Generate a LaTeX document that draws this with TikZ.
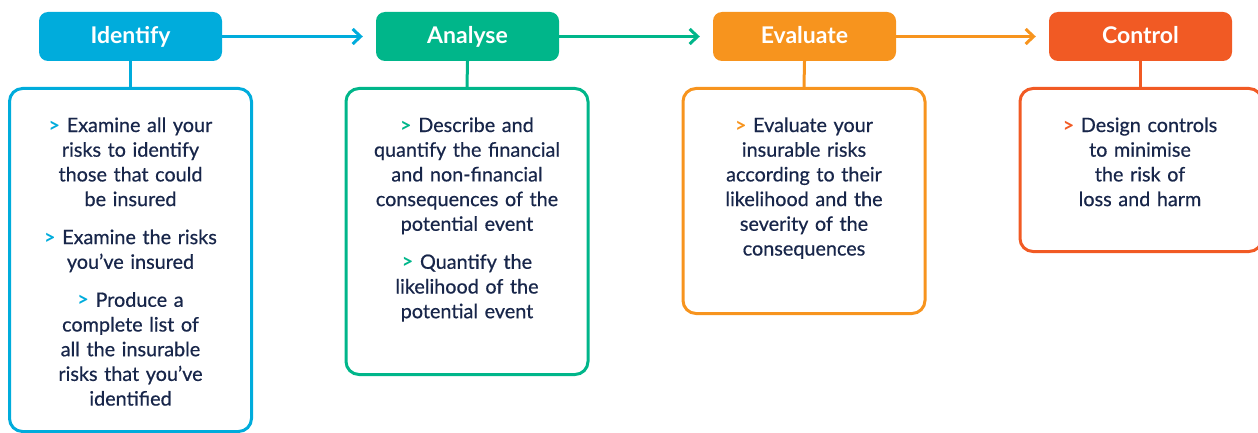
\documentclass[tikz,border=0pt]{standalone}
\usepackage{fontspec}
\setmainfont{Lato}
\newfontfamily\bodyfont{Lato}[FakeBold=0.6]
\usetikzlibrary{arrows.meta}
\definecolor{cid}{RGB}{0,172,220}
\definecolor{can}{RGB}{0,182,138}
\definecolor{cev}{RGB}{247,148,30}
\definecolor{cco}{RGB}{241,90,36}
\definecolor{navy}{RGB}{24,38,74}
\newcommand{\gt}[1]{{\color{#1}\normalfont\bfseries >}}
\newcommand{\pgap}{\\[13.3pt]}
\tikzset{
  head/.style={rounded corners=9pt, fill=#1, text=white, minimum width=183pt, minimum height=49pt,
    inner sep=0pt, text height=17pt, text depth=2pt, font=\bfseries\fontsize{23}{27}\selectfont},
  bodybox/.style={draw=#1, line width=3pt, rounded corners=13pt, minimum width=242pt, anchor=north, inner sep=0pt},
  bodytxt/.style={text=navy, align=center, text width=236pt, inner sep=0pt, anchor=base,
    font=\bodyfont\fontsize{19.8}{24.7}\selectfont},
  flow/.style={draw=#1, line width=3pt, -{Straight Barb[length=8pt,width=15pt,line width=3pt]}, shorten >=13pt},
  stem/.style={draw=#1, line width=3pt}
}
\begin{document}
\begin{tikzpicture}[x=1pt,y=-1pt]
\useasboundingbox (0,0) rectangle (1258,433);
% headers
\node[head=cid] (idh) at (130.5,36.5) {Identify};
\node[head=can] (anh) at (467.5,36.5) {Analyse};
\node[head=cev] (evh) at (804.5,36.5) {Evaluate};
\node[head=cco] (coh) at (1140.5,36.5) {Control};
% body boxes
\node[bodybox=cid, minimum height=343pt] (idb) at (130.5,87) {};
\node[bodybox=can, minimum height=286pt] (anb) at (467,87) {};
\node[bodybox=cev, minimum height=225pt] (evb) at (804,87) {};
\node[bodybox=cco, minimum height=163pt] (cob) at (1141,87) {};
% texts
\node[bodytxt] (idt) at (130.5,132) {\gt{cid} Examine all your\\ risks to identify\\ those that could\\ be insured\pgap
\gt{cid} Examine the risks\\ you’ve insured\pgap
\gt{cid} Produce a\\ complete list of\\ all the insurable\\ risks that you’ve\\ identified};
\node[bodytxt] (ant) at (467,132) {\gt{can} Describe and\\ quantify the financial\\ and non-financial\\ consequences of the\\ potential event\pgap
\gt{can} Quantify the\\ likelihood of the\\ potential event};
\node[bodytxt] (evt) at (804,132) {\gt{cev} Evaluate your\\ insurable risks\\ according to their\\ likelihood and the\\ severity of the\\ consequences};
\node[bodytxt] (cot) at (1140,132) {\gt{cco} Design controls\\ to minimise\\ the risk of\\ loss and harm};
% connectors
\draw[flow=cid] (idh.east) -- (anh.west);
\draw[flow=can] (anh.east) -- (evh.west);
\draw[flow=cev] (evh.east) -- (coh.west);
\draw[stem=cid] (idh.south) -- (idb.north);
\draw[stem=can] (anh.south) -- (anb.north);
\draw[stem=cev] (evh.south) -- (evb.north);
\draw[stem=cco] (coh.south) -- (cob.north -| coh.south);
\end{tikzpicture}
\end{document}
